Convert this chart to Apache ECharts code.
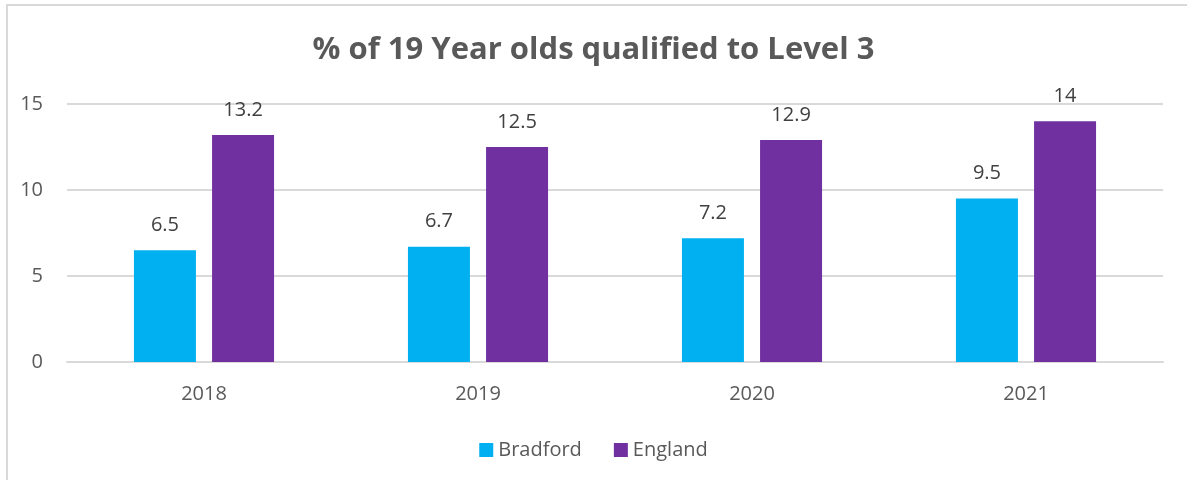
<!DOCTYPE html>
<html>
<head>
<meta charset="utf-8">
<script src="https://cdn.jsdelivr.net/npm/echarts@6/dist/echarts.min.js"></script>
<style>
  html, body { margin: 0; padding: 0; background: #fff; }
  #main { width: 1187px; height: 480px; }
</style>
</head>
<body>
<div id="main"></div>
<script>
const years = ['2018', '2019', '2020', '2021'];
const bradford = [6.5, 6.7, 7.2, 9.5];
const england = [13.2, 12.5, 12.9, 14];
const yTicks = [0, 5, 10, 15];

const chart = echarts.init(document.getElementById('main'));
const font = '"Open Sans", "Noto Sans", sans-serif';
const textColor = '#595959';

const labelStyle = {
  show: true,
  position: 'top',
  distance: 15,
  color: '#404040',
  fontSize: 20,
  fontFamily: font
};

chart.setOption({
  animation: false,
  graphic: [{
    type: 'rect',
    shape: { x: 7, y: 5, width: 1200, height: 500 },
    style: { fill: 'none', stroke: '#d9d9d9', lineWidth: 2 },
    silent: true
  }],
  title: {
    text: '% of 19 Year olds qualified to Level 3',
    left: 'center',
    top: 30,
    textStyle: { color: textColor, fontSize: 31, fontWeight: 'bold', fontFamily: font }
  },
  legend: {
    bottom: 15,
    left: 'center',
    itemWidth: 14,
    itemHeight: 14,
    itemGap: 32,
    icon: 'rect',
    textStyle: { color: textColor, fontSize: 20, fontFamily: font },
    data: ['Bradford', 'England']
  },
  grid: { left: 67, right: 24, top: 104, bottom: 118 },
  xAxis: {
    type: 'category',
    data: years,
    axisLine: { lineStyle: { color: '#d9d9d9', width: 2 } },
    axisTick: { show: false },
    axisLabel: { color: textColor, fontSize: 20, fontFamily: font, margin: 22 }
  },
  yAxis: {
    type: 'value',
    min: yTicks[0],
    max: yTicks[yTicks.length - 1],
    interval: 5,
    axisLine: { show: false },
    axisTick: { show: false },
    splitLine: { lineStyle: { color: '#d9d9d9', width: 2 } },
    axisLabel: { color: textColor, fontSize: 20, fontFamily: font, margin: 24 }
  },
  series: [
    {
      name: 'Bradford',
      type: 'bar',
      data: bradford,
      barWidth: 62,
      barGap: '26%',
      itemStyle: { color: '#00B0F0' },
      label: labelStyle
    },
    {
      name: 'England',
      type: 'bar',
      data: england,
      barWidth: 62,
      itemStyle: { color: '#7030A0' },
      label: labelStyle
    }
  ]
});
</script>
</body>
</html>
